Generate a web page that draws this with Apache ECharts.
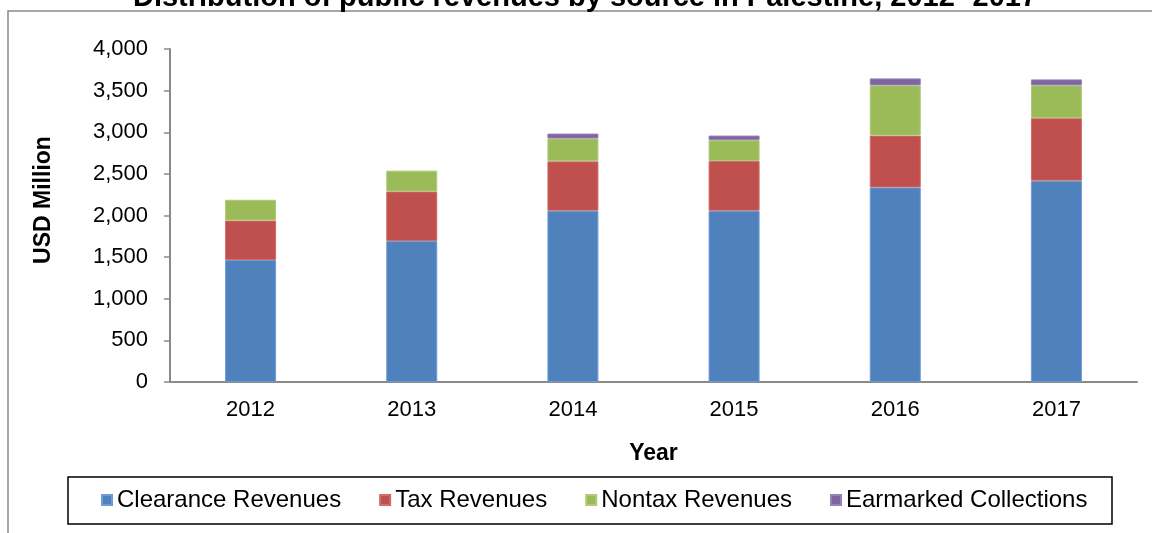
<!DOCTYPE html>
<html>
<head>
<meta charset="utf-8">
<script src="https://cdn.jsdelivr.net/npm/echarts@6/dist/echarts.min.js"></script>
<style>
  html, body { margin: 0; padding: 0; background: #ffffff; }
  #chart { width: 1152px; height: 533px; }
</style>
</head>
<body>
<div id="chart"></div>
<script>
// Public revenues by source (USD million)
const years = ['2012', '2013', '2014', '2015', '2016', '2017'];
const clearanceRevenues = [1466, 1695, 2057, 2057, 2337, 2418];
const taxRevenues = [474, 594, 594, 598, 623, 751];
const nontaxRevenues = [249, 250, 273, 249, 603, 394];
const earmarkedCollections = [0, 0, 60, 56, 84, 72];

const seriesNames = ['Clearance Revenues', 'Tax Revenues', 'Nontax Revenues', 'Earmarked Collections'];
const seriesColors = ['#4F81BD', '#C0504D', '#9BBB59', '#8064A2'];
const seriesEdges = ['#6D9BD8', '#CF6B68', '#AECB78', '#9680B6'];
const seriesData = [clearanceRevenues, taxRevenues, nontaxRevenues, earmarkedCollections];

const chartTitle = 'Distribution of public revenues by source in Palestine, 2012- 2017';
const yAxisTitle = 'USD Million';
const xAxisTitle = 'Year';

const FONT = '"Liberation Sans", Arial, sans-serif';

const chart = echarts.init(document.getElementById('chart'), null, { renderer: 'canvas' });

// zero-height segments get no outline so they stay invisible
const toBarData = values => values.map(v =>
  v === 0 ? { value: v, itemStyle: { borderWidth: 0 } } : v
);

chart.setOption({
  backgroundColor: '#ffffff',
  animation: false,
  graphic: [
    // outer chart frame
    {
      type: 'rect',
      shape: { x: 8, y: 11, width: 1300, height: 700 },
      style: { fill: 'none', stroke: '#8a8a8a', lineWidth: 1.5 },
      silent: true
    },
    // legend border
    {
      type: 'rect',
      shape: { x: 68, y: 477, width: 1044, height: 47 },
      style: { fill: 'none', stroke: '#000000', lineWidth: 1.5 },
      silent: true
    },
    {
      type: 'text',
      x: 585,
      y: 12,
      style: {
        text: chartTitle,
        font: 'bold 29px ' + FONT,
        fill: '#000000',
        align: 'center',
        verticalAlign: 'bottom'
      },
      silent: true
    },
    {
      type: 'text',
      x: 44,
      y: 200,
      rotation: Math.PI / 2,
      style: {
        text: yAxisTitle,
        font: 'bold 23px ' + FONT,
        fill: '#000000',
        align: 'center',
        verticalAlign: 'middle'
      },
      silent: true
    }
  ],
  legend: {
    data: seriesNames,
    left: 101,
    top: 488,
    padding: 0,
    itemGap: 38,
    itemWidth: 10,
    itemHeight: 10,
    icon: 'rect',
    textStyle: { fontFamily: FONT, fontSize: 24, color: '#000000' }
  },
  grid: {
    left: 170,
    right: 15,
    top: 49,
    bottom: 151,
    containLabel: false
  },
  xAxis: {
    type: 'category',
    data: years,
    name: xAxisTitle,
    nameLocation: 'middle',
    nameGap: 60,
    nameTextStyle: { fontFamily: FONT, fontSize: 23, fontWeight: 'bold', color: '#000000' },
    axisLine: { show: true, lineStyle: { color: '#8a8a8a', width: 2 } },
    axisTick: { show: false },
    axisLabel: { fontFamily: FONT, fontSize: 22, color: '#000000', margin: 17 }
  },
  yAxis: {
    type: 'value',
    min: 0,
    max: 4000,
    interval: 500,
    axisLine: { show: true, lineStyle: { color: '#8a8a8a', width: 2 } },
    axisTick: { show: true, length: 6, lineStyle: { color: '#8a8a8a', width: 1.5 } },
    splitLine: { show: false },
    axisLabel: {
      fontFamily: FONT,
      fontSize: 22,
      color: '#000000',
      margin: 22,
      formatter: v => v.toLocaleString('en-US')
    }
  },
  series: seriesNames.map((name, i) => ({
    name: name,
    type: 'bar',
    stack: 'revenues',
    barWidth: 51,
    data: toBarData(seriesData[i]),
    itemStyle: { color: seriesColors[i], borderColor: seriesEdges[i], borderWidth: 1 },
    emphasis: { disabled: true }
  }))
});
</script>
</body>
</html>
